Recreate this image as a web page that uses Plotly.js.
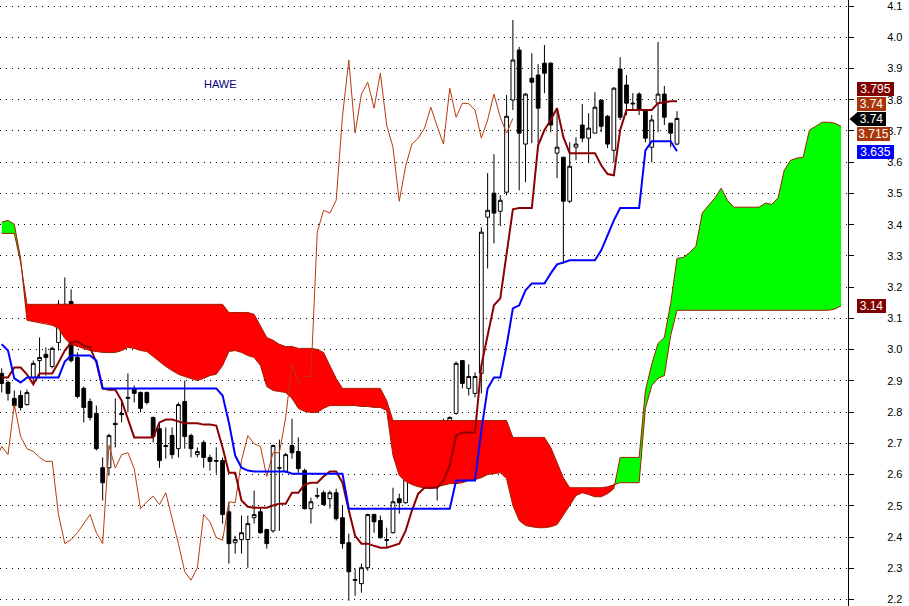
<!DOCTYPE html>
<html><head><meta charset="utf-8">
<script src="https://cdn.plot.ly/plotly-3.0.1.min.js"></script>
<style>html,body{margin:0;padding:0;background:#fff;}#chart{width:909px;height:606px;}</style>
</head><body><div id="chart"></div>
<script>
// ---------- DATA ----------
const open = [
2.924,2.895,2.844,2.853,2.824,2.911,2.965,2.985,2.946,3.023,
3.145,3.154,2.975,2.876,2.834,2.796,2.622,2.622,2.764,2.796,
2.844,2.876,2.863,2.863,2.783,2.747,2.693,2.725,2.683,2.834,
2.725,2.664,2.703,2.655,2.645,2.645,2.481,2.382,2.392,2.392,
2.462,2.481,2.424,2.420,2.622,2.610,2.693,2.674,2.613,2.491,
2.533,2.542,2.523,2.542,2.462,2.382,2.264,2.251,2.302,2.472,
2.453,2.392,2.414,2.523,2.510,2.664,2.735,2.683,2.703,2.574,
2.703,2.703,2.796,2.965,2.876,2.860,2.924,3.424,3.501,3.443,
3.504,3.799,3.959,3.658,3.869,3.879,3.917,3.917,3.629,3.616,
3.475,3.648,3.719,3.677,3.693,3.799,3.747,3.638,3.898,3.847,
3.789,3.818,3.767,3.648,3.789,3.818,3.725,3.658];
const high = [
2.940,2.901,2.869,2.869,2.872,2.965,3.039,3.007,3.010,3.158,
3.231,3.193,2.991,2.882,2.844,2.821,2.655,2.731,2.844,2.840,
2.924,2.885,2.866,2.866,2.786,2.764,2.751,2.751,2.831,2.901,
2.731,2.687,2.710,2.664,2.687,2.655,2.510,2.404,2.469,2.469,
2.549,2.494,2.427,2.696,2.712,2.670,2.779,2.719,2.619,2.526,
2.558,2.549,2.549,2.555,2.501,2.411,2.299,2.315,2.475,2.475,
2.469,2.430,2.558,2.539,2.651,2.741,2.751,2.738,2.706,2.731,
2.779,2.786,2.962,2.965,2.953,2.927,3.392,3.565,3.626,3.494,
3.815,4.055,3.969,3.821,3.949,3.914,3.975,3.920,3.767,3.616,
3.664,3.680,3.786,3.757,3.824,3.799,3.751,3.840,3.936,3.879,
3.821,3.824,3.770,3.751,3.985,3.844,3.725,3.763];
const low = [
2.863,2.837,2.812,2.805,2.821,2.892,2.908,2.917,2.940,2.997,
3.100,2.959,2.844,2.767,2.773,2.677,2.517,2.597,2.687,2.767,
2.799,2.831,2.799,2.824,2.703,2.622,2.651,2.651,2.655,2.683,
2.655,2.655,2.622,2.613,2.603,2.443,2.315,2.347,2.347,2.302,
2.443,2.411,2.363,2.414,2.420,2.606,2.651,2.606,2.488,2.443,
2.523,2.501,2.491,2.453,2.363,2.196,2.212,2.222,2.292,2.414,
2.395,2.366,2.411,2.475,2.507,2.661,2.687,2.664,2.590,2.517,
2.635,2.699,2.792,2.876,2.853,2.847,2.860,3.260,3.340,3.395,
3.494,3.767,3.510,3.536,3.661,3.661,3.821,3.696,3.549,3.276,
3.469,3.606,3.664,3.597,3.693,3.696,3.645,3.600,3.735,3.751,
3.767,3.751,3.664,3.600,3.696,3.719,3.648,3.654];
const close = [
2.892,2.860,2.821,2.815,2.863,2.956,2.975,2.975,3.004,3.145,
3.122,2.965,2.850,2.815,2.783,2.683,2.574,2.725,2.760,2.792,
2.847,2.860,2.812,2.831,2.722,2.645,2.690,2.664,2.824,2.722,
2.683,2.674,2.655,2.642,2.643,2.472,2.379,2.392,2.414,2.443,
2.472,2.414,2.379,2.693,2.621,2.664,2.670,2.619,2.491,2.513,
2.531,2.504,2.542,2.459,2.379,2.289,2.262,2.302,2.472,2.449,
2.398,2.390,2.513,2.510,2.645,2.725,2.699,2.690,2.594,2.670,
2.670,2.783,2.956,2.892,2.914,2.914,3.376,3.446,3.437,3.478,
3.747,3.927,3.693,3.818,3.856,3.773,3.885,3.719,3.648,3.475,
3.587,3.658,3.677,3.709,3.776,3.715,3.658,3.837,3.744,3.789,
3.787,3.767,3.677,3.735,3.818,3.744,3.693,3.740];
const tenkan = [
2.911,2.911,2.943,2.943,2.921,2.889,2.924,2.924,2.924,2.959,
2.997,3.023,3.026,3.013,3.007,2.959,2.876,2.872,2.872,2.837,
2.779,2.719,2.719,2.719,2.719,2.767,2.776,2.776,2.770,2.764,
2.764,2.764,2.760,2.760,2.757,2.687,2.606,2.606,2.517,2.497,
2.494,2.494,2.494,2.501,2.507,2.507,2.542,2.542,2.568,2.574,
2.574,2.594,2.610,2.610,2.574,2.485,2.404,2.379,2.379,2.372,
2.366,2.366,2.372,2.379,2.420,2.485,2.539,2.558,2.558,2.558,
2.581,2.629,2.725,2.735,2.735,2.735,2.949,3.045,3.142,3.164,
3.312,3.449,3.453,3.453,3.453,3.654,3.703,3.735,3.773,3.680,
3.629,3.629,3.629,3.629,3.629,3.590,3.562,3.558,3.703,3.767,
3.767,3.767,3.767,3.767,3.789,3.792,3.795,3.795];
const kijun = [
3.017,2.997,2.908,2.895,2.911,2.911,2.911,2.911,2.911,2.911,
2.962,2.981,2.981,2.981,2.981,2.965,2.876,2.876,2.876,2.876,
2.876,2.876,2.876,2.876,2.876,2.876,2.876,2.876,2.876,2.876,
2.876,2.876,2.876,2.876,2.876,2.853,2.767,2.661,2.622,2.613,
2.610,2.610,2.610,2.610,2.610,2.610,2.603,2.603,2.603,2.603,
2.603,2.603,2.603,2.603,2.603,2.491,2.491,2.491,2.491,2.491,
2.491,2.491,2.491,2.491,2.491,2.491,2.491,2.491,2.491,2.491,
2.491,2.491,2.581,2.581,2.581,2.581,2.741,2.876,2.911,2.911,
3.013,3.132,3.142,3.190,3.212,3.212,3.212,3.244,3.273,3.279,
3.286,3.286,3.286,3.286,3.286,3.318,3.366,3.414,3.453,3.453,
3.453,3.453,3.638,3.667,3.667,3.667,3.667,3.635];
// leading spans, already displaced 26 bars forward (index = chart slot)
const spanA = [
3.408,3.414,3.401,3.292,3.094,3.090,3.087,3.084,3.078,3.068,
3.036,3.017,3.010,3.004,2.997,2.994,2.991,2.991,2.991,2.997,
3.007,3.004,2.997,2.994,2.978,2.959,2.946,2.933,2.921,2.914,
2.908,2.901,2.908,2.917,2.921,2.949,2.994,2.997,2.991,2.981,
2.975,2.949,2.882,2.869,2.866,2.863,2.844,2.812,2.802,2.799,
2.799,2.812,2.821,2.821,2.821,2.821,2.821,2.818,2.818,2.815,
2.815,2.805,2.661,2.597,2.578,2.568,2.561,2.558,2.555,2.561,
2.565,2.571,2.571,2.574,2.581,2.584,2.590,2.600,2.603,2.606,
2.587,2.501,2.453,2.437,2.433,2.430,2.430,2.433,2.440,2.469,
2.501,2.533,2.542,2.536,2.529,2.529,2.539,2.555,2.655,2.655,
2.655,2.655,2.869,2.953,3.020,3.039,3.148,3.292,3.295,3.311,
3.331,3.437,3.462,3.485,3.517,3.478,3.456,3.456,3.456,3.456,
3.456,3.469,3.465,3.485,3.574,3.606,3.613,3.616,3.703,3.715,
3.728,3.728,3.725,3.715];
const spanB = [
3.372,3.372,3.372,3.279,3.145,3.145,3.145,3.145,3.145,3.145,
3.145,3.145,3.145,3.145,3.145,3.145,3.145,3.145,3.145,3.145,
3.145,3.145,3.145,3.145,3.145,3.145,3.145,3.145,3.145,3.145,
3.145,3.145,3.145,3.145,3.145,3.145,3.119,3.119,3.119,3.119,
3.113,3.078,3.039,3.030,3.017,3.010,3.010,3.004,3.004,3.004,
3.001,2.991,2.949,2.908,2.876,2.876,2.876,2.876,2.876,2.876,
2.876,2.837,2.773,2.773,2.773,2.773,2.773,2.773,2.773,2.773,
2.773,2.773,2.773,2.773,2.773,2.773,2.773,2.773,2.773,2.773,
2.773,2.719,2.719,2.719,2.719,2.719,2.719,2.687,2.638,2.590,
2.558,2.558,2.558,2.558,2.558,2.558,2.561,2.568,2.574,2.574,
2.574,2.574,2.812,2.885,2.908,2.917,3.045,3.126,3.126,3.126,
3.126,3.126,3.126,3.126,3.126,3.126,3.126,3.126,3.126,3.126,
3.126,3.126,3.126,3.126,3.126,3.126,3.126,3.126,3.126,3.126,
3.126,3.126,3.130,3.140];
const chikouShift = 26;
const tickValues = [2.2,2.3,2.4,2.5,2.6,2.7,2.8,2.9,3.0,3.1,3.2,3.3,3.4,3.5,3.6,3.7,3.8,3.9,4.0,4.1];
const tickLabels = ['2.2','2.3','2.4','2.5','2.6','2.7','2.8','2.9','3.0','3.1','3.2','3.3','3.4','3.5','3.6','3.7','3.8','3.9','4.0','4.1'];
const symbolName = 'HAWE';

// ---------- BUILD ----------
const idx = close.map((_, i) => i);
const cloudIdx = spanA.map((_, j) => j);
const last = close.length - 1;

function cloudRuns() {
  const runs = [];
  let cur = null;
  for (let j = 0; j < spanA.length; j++) {
    const s = spanA[j] >= spanB[j] ? 1 : -1;
    if (!cur) cur = {sign: s, ax: [], ay: [], by: []};
    if (s !== cur.sign) {
      const d0 = spanA[j-1] - spanB[j-1], d1 = spanA[j] - spanB[j];
      const t = d0 / (d0 - d1);
      const xc = (j - 1) + t;
      const yc = spanA[j-1] + t * (spanA[j] - spanA[j-1]);
      cur.ax.push(xc); cur.ay.push(yc); cur.by.push(yc);
      runs.push(cur);
      cur = {sign: s, ax: [xc], ay: [yc], by: [yc]};
    }
    cur.ax.push(j); cur.ay.push(spanA[j]); cur.by.push(spanB[j]);
  }
  runs.push(cur);
  return runs;
}

const traces = [];
cloudRuns().forEach(r => {
  traces.push({
    type: 'scatter', mode: 'lines',
    x: r.ax.concat(r.ax.slice().reverse()),
    y: r.ay.concat(r.by.slice().reverse()),
    fill: 'toself', fillcolor: r.sign > 0 ? '#00FF00' : '#FF0000',
    line: {width: 0}, hoverinfo: 'skip'
  });
});
traces.push({type:'scatter', mode:'lines', x: cloudIdx, y: spanA, line:{color:'#A01E00', width:1}, hoverinfo:'skip'});
traces.push({type:'scatter', mode:'lines', x: cloudIdx, y: spanB, line:{color:'#A01E00', width:1}, hoverinfo:'skip'});
traces.push({type:'scatter', mode:'lines', x: idx.map(i => i - chikouShift), y: close,
  line:{color:'#B83A08', width:1}, hoverinfo:'skip'});
traces.push({
  type:'candlestick', x: idx, open: open, high: high, low: low, close: close,
  increasing:{line:{color:'#000000', width:1}, fillcolor:'#FFFFFF'},
  decreasing:{line:{color:'#000000', width:1}, fillcolor:'#000000'},
  whiskerwidth: 0, hoverinfo:'skip'
});
traces.push({type:'scatter', mode:'lines', x: idx, y: tenkan, line:{color:'#8B0000', width:2}, hoverinfo:'skip'});
traces.push({type:'scatter', mode:'lines', x: idx, y: kijun, line:{color:'#0000FF', width:2}, hoverinfo:'skip'});

const W = 909, H = 606, PW = 848;
function lab(text, bg, cy, w) {
  return {xref:'paper', yref:'paper', x: 857/PW, y: 1 - cy/H, xanchor:'left', yanchor:'middle',
    text: text, showarrow:false, bgcolor: bg, borderwidth:0, borderpad:0, width:w, height:14, align:'center',
    font:{family:'Liberation Sans, Arial, sans-serif', size:12, color:'#FFFFFF'}};
}
const annotations = [
  {xref:'x', yref:'y', x: 34.6, y: 3.85, text: symbolName, showarrow:false,
   font:{family:'Liberation Sans, Arial, sans-serif', size:11, color:'#000080'}},
  lab(String(tenkan[last]), '#800000', 89, 37),
  lab(String(close[last]), '#A8360A', 104, 29),
  lab(String(close[last]), '#000000', 119, 29),
  lab(String(spanA[spanA.length-1]), '#A8360A', 134, 33),
  lab(String(kijun[last]), '#0000FF', 152, 37),
  lab(String(spanB[spanB.length-1]), '#800000', 306, 29)
];
const shapes = [{
  type:'path', xref:'paper', yref:'paper',
  path: 'M ' + (849.5/PW) + ',' + (1-119/H) + ' L ' + (857.5/PW) + ',' + (1-112/H) + ' L ' + (857.5/PW) + ',' + (1-126/H) + ' Z',
  fillcolor:'#000000', line:{width:0}
}];

const layout = {
  width: W, height: H, margin:{l:0, r:W-PW, t:0, b:0}, showlegend:false,
  paper_bgcolor:'#FFFFFF', plot_bgcolor:'#FFFFFF', boxgap: 0.15,
  xaxis:{range:[-0.269, 134.1], visible:false, rangeslider:{visible:false}, showgrid:false, zeroline:false},
  yaxis:{range:[2.1794, 4.1192], side:'right', tickvals: tickValues, ticktext: tickLabels,
    ticks:'outside', ticklen:5, tickcolor:'#000000', tickwidth:1,
    showline:true, linecolor:'#000000', linewidth:1,
    showgrid:true, gridcolor:'#000000', gridwidth:1, griddash:'1px,5px', zeroline:false,
    tickfont:{family:'Liberation Sans, Arial, sans-serif', size:11, color:'#000000'},
    ticklabelstandoff: 31, ticklabeloverflow:'allow'},
  annotations: annotations, shapes: shapes
};
Plotly.newPlot('chart', traces, layout, {displayModeBar:false, staticPlot:true});
</script></body></html>
